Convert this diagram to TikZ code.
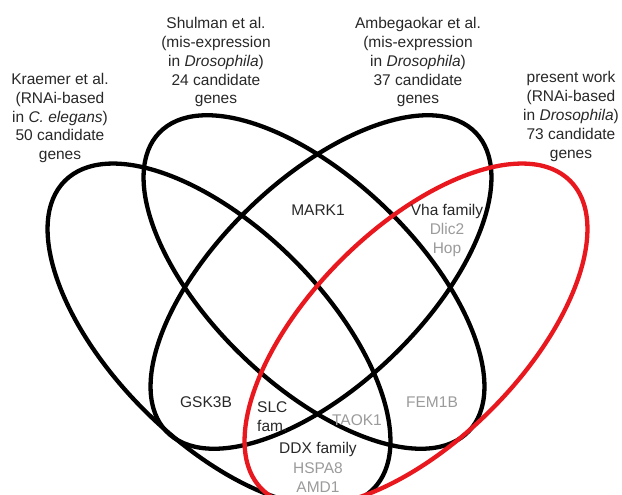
\documentclass[tikz,border=0pt]{standalone}
\usepackage{fontspec}
\setmainfont{Liberation Sans}
\definecolor{vred}{RGB}{232,24,30}
\definecolor{txt}{RGB}{40,40,40}
\definecolor{gtxt}{RGB}{155,155,155}
\begin{document}
\begin{tikzpicture}[x=1pt,y=-1pt,
  setline/.style={line width=4.3pt, black},
  redline/.style={line width=4.3pt, vred},
  lbl/.style={font=\fontsize{15.5}{19}\selectfont, text=txt, inner sep=0pt, anchor=base, align=center},
  glbl/.style={lbl, text=gtxt}]
\useasboundingbox (0,0) rectangle (622,495);
\clip (0,0) rectangle (622,495);
\fill[white] (0,0) rectangle (622,495);
% ellipses
\draw[setline, rotate around={-45:(219,335)}] (219,335) ellipse [x radius=218pt, y radius=106pt];
\draw[setline, rotate around={-44:(314,282)}] (314,282) ellipse [x radius=215pt, y radius=103pt];
\draw[setline, rotate around={44:(321,282)}] (321,282) ellipse [x radius=215pt, y radius=103pt];
\draw[redline, rotate around={45:(416,335)}] (416,335) ellipse [x radius=218pt, y radius=106pt];
% set titles (anchor = baseline of last line)
\node[lbl] (kraemer) at (60,160) {Kraemer et al.\\(RNAi-based\\in \textit{C. elegans})\\50 candidate\\genes};
\node[lbl] (shulman) at (216,104) {Shulman et al.\\(mis-expression\\in \textit{Drosophila})\\24 candidate\\genes};
\node[lbl] (ambeg) at (418,104) {Ambegaokar et al.\\(mis-expression\\in \textit{Drosophila})\\37 candidate\\genes};
\node[lbl] (present) at (571,158) {present work\\(RNAi-based\\in \textit{Drosophila})\\73 candidate\\genes};
% region labels
\node[lbl] (mark) at (318,215) {MARK1};
\node[lbl] (vha) at (447,215) {Vha family};
\node[glbl] (dlic) at (447,253) {Dlic2\\Hop};
\node[lbl] (gsk) at (206,407) {GSK3B};
\node[lbl, anchor=base west, align=left] (slc) at (257,431) {SLC\\fam.};
\node[glbl] (taok) at (357,425) {TAOK1};
\node[glbl] (fem) at (432,407) {FEM1B};
\node[lbl] (ddx) at (318,453) {DDX family};
\node[glbl] (hspa) at (318,492) {HSPA8\\AMD1};
\end{tikzpicture}
\end{document}
